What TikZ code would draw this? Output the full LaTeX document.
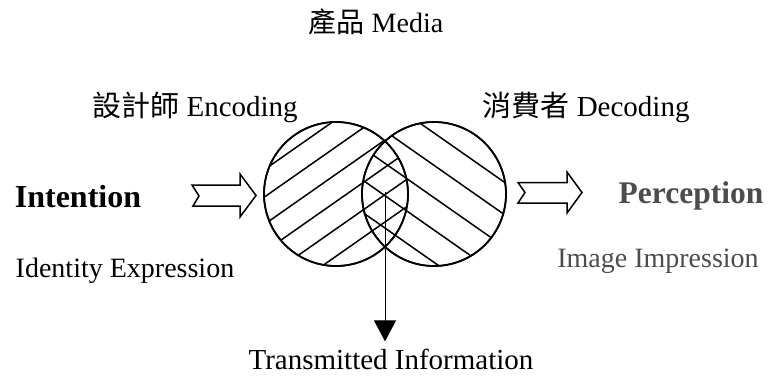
\documentclass[tikz,border=0pt]{standalone}
\usepackage{fontspec}
\setmainfont{Liberation Serif}
\newfontfamily\cjk{Noto Sans CJK TC}
\usetikzlibrary{arrows.meta,calc}
\definecolor{scangray}{gray}{0.3}
\begin{document}
\begin{tikzpicture}[x=1pt,y=-1pt,
  lbl/.style={font=\fontsize{28}{30}\selectfont, inner sep=0pt, anchor=base},
  biglbl/.style={font=\fontsize{29}{31}\selectfont, inner sep=0pt, anchor=base},
  boldlbl/.style={font=\fontsize{32}{34}\selectfont\bfseries, inner sep=0pt, anchor=base},
  circ/.style={circle, draw, line width=1.7pt, minimum size=144pt, inner sep=0pt},
  hatch/.style={line width=1.5pt},
  blockarrow/.style={draw, line width=1.5pt, line join=miter, fill=white}
]
\useasboundingbox (0,0) rectangle (768,377);
\fill[white] (0,0) rectangle (768,377);

% texts
\node[lbl] (media) at (376,33) {{\cjk 產品} Media};
\node[biglbl] (enc) at (195,117) {{\cjk 設計師} Encoding};
\node[biglbl] (dec) at (586,117) {{\cjk 消費者} Decoding};
\node[boldlbl] (intent) at (78,207) {Intention};
\node[boldlbl, text=scangray, font=\fontsize{31.5}{33}\selectfont\bfseries] (percep) at (691,203) {Perception};
\node[lbl] (ident) at (125,277) {Identity Expression};
\node[lbl, text=scangray] (impr) at (658,267) {Image Impression};
\node[biglbl] (trans) at (391,369) {Transmitted Information};

% circles
\node[circ] (L) at (336,194) {};
\node[circ] (R) at (434,194) {};

% hatching left circle
\begin{scope}
  \clip (L.center) circle[radius=72pt];
  \foreach \d in {-61,-38.6,-16.2,6.2,28.6,51}
    \draw[hatch] ({336+0.574*\d-82},{194+0.819*\d+57.4}) -- ({336+0.574*\d+82},{194+0.819*\d-57.4});
\end{scope}
% hatching right circle
\begin{scope}
  \clip (R.center) circle[radius=72pt];
  \foreach \d in {-50,-23.5,3,29.5,56}
    \draw[hatch] ({434-0.574*\d-82},{194+0.819*\d-57.4}) -- ({434-0.574*\d+82},{194+0.819*\d+57.4});
\end{scope}
\node[circ] at (L.center) {};
\node[circ] at (R.center) {};

% block arrows
\draw[blockarrow] (192,185) -- (240,185) -- (240,174) -- (256,195.5) -- (240,217) -- (240,206) -- (193,206) -- (199,196) -- cycle;
\draw[blockarrow] (518,182.5) -- (567,182.5) -- (567,172) -- (582,192.5) -- (567,213) -- (567,203) -- (518,203) -- (525,192.5) -- cycle;

% transmitted arrow
\coordinate (lens) at (385,192);
\draw[line width=1pt, -{Triangle[width=22pt,length=21pt]}, shorten >=7pt] (lens) -- (lens |- trans.north);
\end{tikzpicture}
\end{document}
